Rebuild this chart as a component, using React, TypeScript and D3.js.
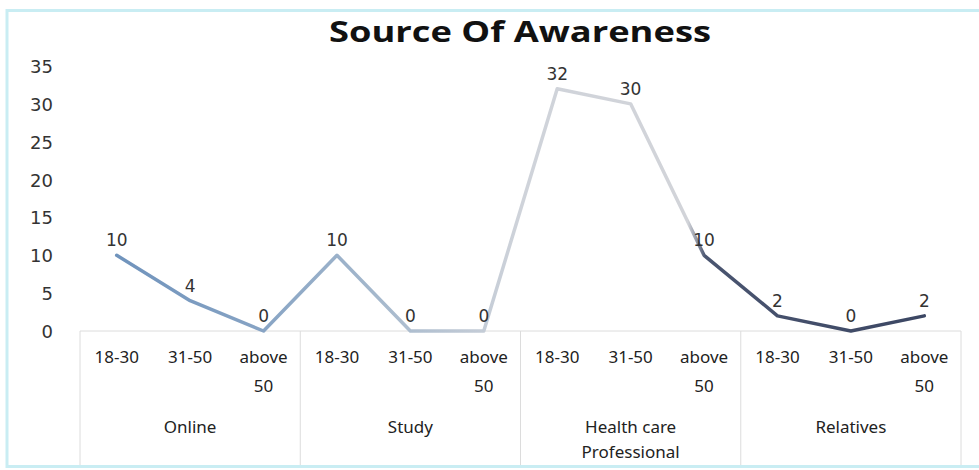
import React from "react";
import * as d3 from "d3";

const groups = ["Online", "Study", "Health care\nProfessional", "Relatives"];
const ages = ["18-30", "31-50", "above\n50"];
const values = [10, 4, 0, 10, 0, 0, 32, 30, 10, 2, 0, 2];
const yTicks = [0, 5, 10, 15, 20, 25, 30, 35];
const title = "Source Of Awareness";

const W = 979;
const H = 470;
const left = 80;
const right = 961;
const yTop = 66;
const yBottom = 331;

export default function App() {
  const points = groups.flatMap((g, gi) => ages.map((a, ai) => ({ key: `${gi}-${ai}`, gi, a, v: values[gi * ages.length + ai] })));
  const x = d3.scaleBand<string>().domain(points.map((p) => p.key)).range([left, right]).padding(0);
  const y = d3.scaleLinear().domain([0, 35]).range([yBottom, yTop]);
  const gx = d3.scaleBand<string>().domain(groups).range([left, right]);
  const cx = (k: string) => (x(k) as number) + x.bandwidth() / 2;
  const line = d3
    .line<{ key: string; v: number }>()
    .x((d) => cx(d.key))
    .y((d) => y(d.v));

  return (
    <svg width={W} height={H} style={{ position: "absolute", left: 0, top: 0, background: "#fff" }}>
      <defs>
        <linearGradient id="lg" gradientUnits="userSpaceOnUse" x1={left} x2={right} y1={0} y2={0}>
          <stop offset="0" stopColor="#6a8fba" />
          <stop offset="0.2" stopColor="#86a3c4" />
          <stop offset="0.33" stopColor="#a3b7cc" />
          <stop offset="0.5" stopColor="#cfd3da" />
          <stop offset="0.69" stopColor="#d2d4d9" />
          <stop offset="0.71" stopColor="#4a5570" />
          <stop offset="1" stopColor="#394461" />
        </linearGradient>
      </defs>
      <rect x={7} y={10.5} width={990} height={456} fill="#fff" stroke="#c9edf3" strokeWidth={3} />
      <text
        x={520}
        y={42}
        textAnchor="middle"
        fontFamily="'Open Sans', 'Liberation Sans', sans-serif"
        fontWeight={700}
        fontSize={28}
        fill="#111"
        textLength={382}
        lengthAdjust="spacingAndGlyphs"
      >
        {title}
      </text>
      {yTicks.map((t) => (
        <text key={t} x={53} y={y(t) + 7} textAnchor="end" fontFamily="'DejaVu Sans', sans-serif" fontSize={18} fill="#333">
          {t}
        </text>
      ))}
      <line x1={left} x2={right} y1={yBottom} y2={yBottom} stroke="#dcdcdc" strokeWidth={1} />
      {[...groups.map((g) => gx(g) as number), right].map((px, i) => (
        <line key={i} x1={px} x2={px} y1={yBottom} y2={465} stroke="#dcdcdc" strokeWidth={1} />
      ))}
      {points.map((p) =>
        p.a.split("\n").map((s, li) => (
          <text key={p.key + li} x={cx(p.key)} y={363 + li * 29} textAnchor="middle" fontFamily="'Noto Sans', sans-serif" fontSize={17} fill="#222">
            {s}
          </text>
        ))
      )}
      {groups.map((g) =>
        g.split("\n").map((s, li) => (
          <text key={g + li} x={(gx(g) as number) + gx.bandwidth() / 2} y={433 + li * 25} textAnchor="middle" fontFamily="'Noto Sans', sans-serif" fontSize={17} fill="#222">
            {s}
          </text>
        ))
      )}
      <path d={line(points) || ""} fill="none" stroke="url(#lg)" strokeWidth={3.5} strokeLinejoin="round" strokeLinecap="round" />
      {points.map((p) => (
        <text key={"l" + p.key} x={cx(p.key)} y={y(p.v) - 9} textAnchor="middle" fontFamily="'DejaVu Sans', sans-serif" fontSize={17} fill="#333">
          {p.v}
        </text>
      ))}
    </svg>
  );
}
